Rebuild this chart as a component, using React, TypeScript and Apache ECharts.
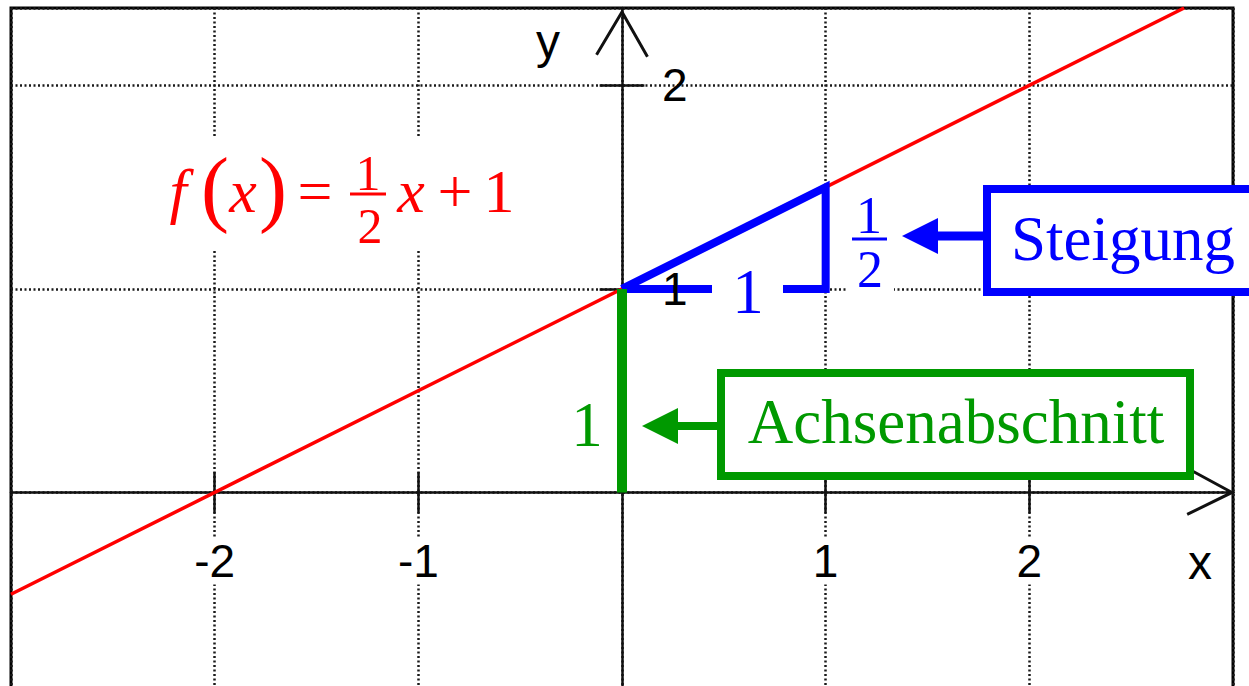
import React, { useEffect, useRef } from "react";
import * as echarts from "echarts";

// ---- data ----
const xTicks = [-2, -1, 1, 2];
const yTicks = [1, 2];
const xTickLabels = ["-2", "-1", "1", "2"];
const yTickLabels = ["1", "2"];
const redLine = [
  [-3, -0.5],
  [2.76, 2.38],
];
const slopeTriangle = [
  [0, 1],
  [1, 1.5],
  [1, 1],
  [0, 1],
];
const interceptSegment = [
  [0, 0],
  [0, 1],
];

const SERIF = '"Liberation Serif", "Times New Roman", serif';
const SANS = '"Liberation Sans", Arial, sans-serif';
const BLUE = "#0000ff";
const GREEN = "#009900";
const RED = "#ff0000";

function txt(text: string, x: number, y: number, size: number, color: string, italic = false, family = SERIF) {
  return {
    type: "text",
    x,
    y,
    z: 110,
    style: {
      text,
      font: `${italic ? "italic " : ""}${size}px ${family}`,
      fill: color,
      align: "center",
      verticalAlign: "middle",
      textAlign: "center",
      textVerticalAlign: "middle",
    },
  };
}

function rect(x: number, y: number, w: number, h: number, stroke?: string, lw = 0) {
  return {
    type: "rect",
    z: 100,
    shape: { x, y, width: w, height: h },
    style: { fill: "#fff", stroke: stroke || "none", lineWidth: lw },
  };
}

export default function App() {
  const ref = useRef<HTMLDivElement>(null);
  useEffect(() => {
    const chart = echarts.init(ref.current!, null, { renderer: "svg" });

    const tickData = [
      ...xTicks.map((v) => ({ coords: [[v, -0.1], [v, 0.1]] })),
      ...yTicks.map((v) => ({ coords: [[-0.11, v], [0.11, v]] })),
    ];
    const arrowData = [
      { coords: [[2.805, 0.103], [2.995, 0], [2.775, -0.108]] },
      { coords: [[-0.125, 2.15], [0, 2.36], [0.125, 2.14]] },
    ];

    const graphic: any[] = [
      // formula
      rect(150, 138, 370, 112),
      txt("f", 178, 191, 62, RED, true),
      txt("(", 215, 187, 84, RED),
      txt("x", 243, 191, 62, RED, true),
      txt(")", 273, 187, 84, RED),
      txt("=", 315, 191, 62, RED),
      txt("1", 368, 173, 50, RED),
      { type: "line", z: 110, shape: { x1: 350, y1: 194, x2: 386, y2: 194 }, style: { stroke: RED, lineWidth: 3 } },
      txt("2", 370, 226, 50, RED),
      txt("x", 411, 191, 62, RED, true),
      txt("+", 455, 191, 62, RED),
      txt("1", 499, 191, 62, RED),
      // blue "1" label under triangle
      rect(712, 274, 71, 30),
      txt("1", 748, 292, 63, BLUE),
      // blue 1/2 fraction
      rect(848, 194, 46, 98),
      txt("1", 869, 215, 52, BLUE),
      { type: "line", z: 110, shape: { x1: 852, y1: 239, x2: 887, y2: 239 }, style: { stroke: BLUE, lineWidth: 3 } },
      txt("2", 870, 269, 52, BLUE),
      // Steigung arrow + box
      { type: "line", z: 105, shape: { x1: 935, y1: 236, x2: 986, y2: 236 }, style: { stroke: BLUE, lineWidth: 9 } },
      { type: "polygon", z: 105, shape: { points: [[902, 236], [938, 218], [938, 254]] }, style: { fill: BLUE } },
      rect(987, 189, 300, 103, BLUE, 8),
      txt("Steigung", 1123, 239, 63, BLUE),
      // green
      txt("1", 587, 425, 63, GREEN),
      { type: "line", z: 105, shape: { x1: 675, y1: 426, x2: 718, y2: 426 }, style: { stroke: GREEN, lineWidth: 8 } },
      { type: "polygon", z: 105, shape: { points: [[642, 426], [678, 408], [678, 444]] }, style: { fill: GREEN } },
      rect(721, 373, 469, 103, GREEN, 8),
      txt("Achsenabschnitt", 956, 422, 63, GREEN),
      // axis names
      txt("x", 1200, 562, 48, "#000", false, SANS),
      txt("y", 548, 41, 48, "#000", false, SANS),
    ];

    const labelStyle = {
      show: true,
      fontFamily: SANS,
      fontSize: 46,
      color: "#000",
      opacity: 1,
    };

    const gridLine = { show: true, lineStyle: { type: [2, 2.5], color: "#1a1a1a", width: 2.5 } };

    const option: any = {
      animation: false,
      backgroundColor: "#fff",
      grid: {
        left: 11,
        top: 8,
        width: 1222,
        height: 688,
        containLabel: false,
        outerBoundsMode: "none",
        show: true,
        borderColor: "#000",
        borderWidth: 3,
        backgroundColor: "transparent",
      },
      xAxis: {
        type: "value",
        min: -3,
        max: 3,
        interval: 1,
        axisLine: { show: true, onZero: true, lineStyle: { color: "#111", width: 2.5 } },
        axisTick: { show: false },
        axisLabel: { show: false },
        splitLine: gridLine,
      },
      yAxis: {
        type: "value",
        min: -1,
        max: 2.38,
        interval: 1,
        axisLine: { show: true, onZero: true, lineStyle: { color: "#111", width: 2.5 } },
        axisTick: { show: false },
        axisLabel: { show: false },
        splitLine: gridLine,
      },
      series: [
        {
          type: "lines",
          coordinateSystem: "cartesian2d",
          data: tickData,
          lineStyle: { color: "#111", width: 2.5, opacity: 1 },
          z: 2,
        },
        {
          type: "lines",
          coordinateSystem: "cartesian2d",
          polyline: true,
          data: arrowData,
          lineStyle: { color: "#111", width: 3, opacity: 1 },
          z: 2,
        },
        {
          type: "line",
          data: redLine,
          symbol: "none",
          lineStyle: { color: RED, width: 3.5 },
          z: 3,
        },
        {
          type: "line",
          data: slopeTriangle,
          symbol: "none",
          lineStyle: { color: BLUE, width: 8, join: "miter", cap: "butt" },
          z: 4,
        },
        {
          type: "line",
          data: interceptSegment,
          symbol: "none",
          lineStyle: { color: GREEN, width: 10, cap: "butt" },
          z: 4,
        },
        {
          // x tick labels
          type: "scatter",
          symbolSize: 0,
          silent: true,
          itemStyle: { opacity: 1 },
          data: xTicks.map((v) => [v, 0]),
          label: {
            ...labelStyle,
            position: "bottom",
            distance: 46,
            backgroundColor: "#fff",
            padding: [0, 2],
            formatter: (p: any) => xTickLabels[p.dataIndex],
          },
          z: 5,
        },
        {
          // y tick labels
          type: "scatter",
          symbolSize: 0,
          silent: true,
          itemStyle: { opacity: 1 },
          data: yTicks.map((v) => [0, v]),
          label: {
            ...labelStyle,
            position: "right",
            distance: 40,
            formatter: (p: any) => yTickLabels[p.dataIndex],
          },
          z: 5,
        },
      ],
      graphic,
    };
    chart.setOption(option);
    return () => chart.dispose();
  }, []);
  return (
    <div
      ref={ref}
      style={{ position: "fixed", left: 0, top: 0, width: 1249, height: 686, background: "#fff" }}
    />
  );
}
